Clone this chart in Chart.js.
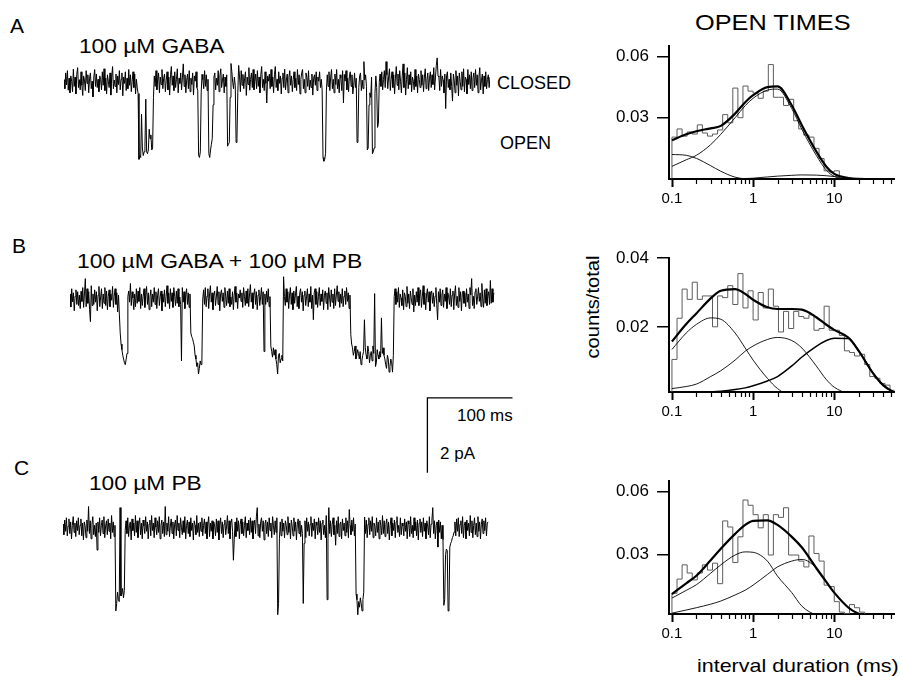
<!DOCTYPE html>
<html>
<head>
<meta charset="utf-8">
<title>Open times</title>
<script src="https://cdn.jsdelivr.net/npm/chart.js@4.4.1/dist/chart.umd.min.js"></script>
<style>
  body { margin: 0; background: #fff; }
  #fig { position: relative; width: 902px; height: 677px; overflow: hidden;
         font-family: 'Liberation Sans', Arial, sans-serif; color: #000; }
  .lbl { position: absolute; line-height: 1; white-space: nowrap; transform-origin: 0 0; }
  canvas { position: absolute; }
</style>
</head>
<body>
<div id="fig">
  <div class="lbl" style="left:10px;top:15px;font-size:21px">A</div>
  <div class="lbl" style="left:79px;top:35px;font-size:21px;transform:scaleX(1.08)">100 µM GABA</div>
  <div class="lbl" style="left:497px;top:74px;font-size:18px">CLOSED</div>
  <div class="lbl" style="left:500px;top:134px;font-size:18px">OPEN</div>
  <div class="lbl" style="left:695px;top:12px;font-size:22px;transform:scaleX(1.15)">OPEN TIMES</div>

  <div class="lbl" style="left:12px;top:235px;font-size:21px">B</div>
  <div class="lbl" style="left:77px;top:250px;font-size:21px;transform:scaleX(1.09)">100 µM GABA + 100 µM PB</div>
  <div class="lbl" style="left:457px;top:407px;font-size:17px">100 ms</div>
  <div class="lbl" style="left:440px;top:445px;font-size:17px">2 pA</div>
  <div class="lbl" style="left:593px;top:307px;font-size:18px;transform-origin:50% 50%;transform:translate(-50%,-50%) rotate(-90deg) scaleX(1.12)">counts/total</div>

  <div class="lbl" style="left:14px;top:457px;font-size:21px">C</div>
  <div class="lbl" style="left:89px;top:472px;font-size:21px;transform:scaleX(1.08)">100 µM PB</div>
  <div class="lbl" style="left:697px;top:656px;font-size:19px;transform:scaleX(1.13)">interval duration (ms)</div>

  <canvas id="traceA" width="426" height="124" style="left:64px;top:56px"></canvas>
  <canvas id="traceB" width="451" height="202" style="left:70px;top:273px"></canvas>
  <canvas id="traceC" width="426" height="124" style="left:63px;top:502px"></canvas>

  <canvas id="histA" width="302" height="181" style="left:600px;top:28px"></canvas>
  <canvas id="histB" width="302" height="182" style="left:600px;top:240px"></canvas>
  <canvas id="histC" width="302" height="181" style="left:600px;top:463px"></canvas>
</div>

<script>
// single-channel currents, one sample per ms, in units of 0.01 pA from the closed level
const sampleMs = 1;
const unitPA = 0.01;

const traceA = [
  7,-17,25,-7,31,-21,11,-28,17,3,-25,35,-11,14,-31,21,39,-14,7,-20,
  28,-8,-35,17,6,-22,31,-3,20,-28,11,25,-17,3,-39,14,34,-11,22,-14,
  8,-25,17,7,-20,28,-8,36,-22,11,-31,20,3,-14,25,-34,14,42,-17,6,
  -11,22,-28,17,-6,31,-20,8,25,-36,14,-3,28,-22,11,-17,34,-8,20,-25,
  3,28,-14,22,-31,8,-15,-30,-205,-195,-200,-85,-175,-195,-185,-170,-45,-185,-190,-180,
  -125,-150,-140,-180,-175,-40,17,-11,31,-20,8,25,-28,14,-6,34,-17,11,22,-25,
  6,28,-20,14,-34,20,42,-8,17,-22,28,-14,8,36,-28,11,-3,25,-20,14,
  49,-11,20,-28,6,22,-17,31,-25,11,-6,25,-34,17,3,28,-14,-21,-195,-200,
  -185,-28,21,7,-17,31,-11,20,-22,8,-190,-200,-180,-165,-150,-60,14,25,-20,11,
  -8,31,-25,17,36,-14,6,22,-28,14,-11,20,-170,-165,-160,-40,50,28,0,-17,
  14,-8,-160,-150,-28,45,17,-25,31,-8,21,-17,11,28,-35,14,-6,39,-21,8,
  25,-14,34,-20,3,22,-17,31,-11,14,-28,20,42,-14,8,-22,28,-3,-55,17,
  3,22,-17,34,-11,14,-28,20,42,-14,8,-22,28,-3,17,-31,11,25,-14,35,
  -20,6,22,-28,14,31,-8,17,-25,7,28,-14,11,-22,34,-6,20,-31,8,25,
  34,-17,8,-28,25,14,-11,31,-20,6,-14,22,-34,11,20,-8,28,-22,14,3,
  28,-14,8,-20,-200,-210,-205,-190,-21,20,-11,28,-22,14,34,-17,8,-28,22,-6,
  34,-17,8,-28,20,11,-22,31,-55,21,3,31,-20,11,-25,17,28,-11,20,-31,
  -8,25,-14,11,-160,-150,-14,17,25,-22,6,-17,55,6,20,-11,-180,-175,-60,-28,
  -40,14,-190,-185,-175,-30,17,-14,-120,-110,0,22,-11,28,-20,8,31,-14,55,20,
  -17,14,36,-22,8,28,-14,20,-31,11,42,-8,22,-20,31,3,-28,17,49,-14,
  25,-34,8,39,-17,20,-6,28,-25,14,3,-20,34,-11,17,-28,22,8,-14,31,
  -8,20,-25,14,36,-17,6,25,-22,11,28,-14,20,-6,39,-20,14,45,65,17,
  14,-22,34,-11,17,6,-28,22,-70,17,28,-14,8,-20,25,-11,-50,22,6,-28,
  31,-8,17,-36,25,3,-20,28,-11,36,-25,14,8,-31,34,-6,20,-17,28,-22,
  11,25,-14,34,-8,20,-28,14,39,-20,6,22,-31,17,-11,28,-17,8,20,-14,
  14
];

const traceB = [
  14,-21,28,-7,17,-31,8,25,-14,20,-17,11,-25,21,-6,31,-22,14,55,-20,
  28,-11,20,-28,-60,36,-17,14,-14,25,-8,20,-31,11,34,-20,6,28,-25,14,
  -11,31,-17,22,-28,8,25,-20,14,-3,34,-22,8,28,-14,17,-34,11,-40,-90,
  -120,-135,-150,-160,-170,-175,-160,-145,7,22,-8,42,-17,20,3,-28,14,-20,28,-11,
  22,-6,31,-25,14,-17,8,28,-22,11,34,-14,17,-28,6,25,-20,14,-8,31,
  -14,20,-25,11,28,-17,6,22,-31,14,-8,25,-20,8,36,-11,17,-25,28,-6,
  17,-22,31,8,-17,22,-11,28,-20,6,-14,-165,31,-8,20,-25,11,28,-14,17,
  -22,14,-90,-100,-105,-115,-125,-150,-160,-180,-170,-200,-185,-165,-175,-160,0,25,-14,31,
  -20,8,28,-25,14,36,-8,17,-28,11,22,-17,6,34,-14,20,-31,14,25,-6,
  17,-22,31,8,-17,22,-11,28,-20,6,-14,20,-28,11,34,-8,17,-25,14,3,
  25,-6,17,-22,31,8,-17,22,-11,28,-20,14,39,-8,17,-25,11,28,-14,20,
  -28,11,25,-17,6,31,-14,20,-140,14,-14,22,-8,28,-20,7,-125,-140,-155,-130,
  -150,-135,-160,-175,-200,-150,-145,-170,-160,-150,-165,60,7,-17,28,-8,20,-25,11,31,
  -14,17,-28,22,-11,14,34,-20,8,-25,17,28,-8,20,-31,11,22,-17,6,28,
  -20,14,-8,34,-25,11,-55,17,28,-14,20,-22,8,31,-17,14,-6,25,-28,11,
  22,-11,17,-28,31,6,-20,25,-8,14,-25,28,-17,11,36,-6,20,-22,14,-11,
  28,-20,8,22,-14,31,-6,17,-25,11,-95,-120,-130,-150,-140,-125,-160,-150,-135,-145,
  -160,-140,-175,-165,-150,-140,-55,-130,-150,-160,-125,-140,-170,-150,-140,-165,-125,-145,15,-180,
  -170,-135,-150,-160,-140,-155,-50,-145,-130,-150,-160,-175,-185,-150,-160,-195,-180,-160,-170,-195,
  -150,7,28,-14,20,-8,31,-22,14,3,-17,25,-28,17,8,-20,34,-11,14,-25,
  22,3,-14,28,-34,11,-17,20,-8,31,-17,14,25,-22,6,36,-14,17,-28,11,
  28,-8,20,-31,14,22,-11,17,-20,8,31,-14,-55,20,-8,28,-17,11,25,-22,
  14,-6,31,-25,17,6,-14,28,-20,11,22,-28,14,36,-17,8,-22,31,-6,20,
  -31,14,22,-11,17,-20,28,-8,14,-25,31,11,55,-17,8,-25,20,28,-14,6,
  31,-6,17,-20,42,3,-22,25,-11,28,-17,8,20,-14,50,-11,28,-8,17
];

const traceC = [
  11,-17,22,-8,28,-20,6,25,-14,17,-28,8,31,-11,14,-22,20,-6,28,-17,
  8,25,-20,14,-31,17,6,-25,22,-8,58,-14,20,-28,11,31,-17,8,-22,14,
  -58,17,-11,28,-20,8,22,-14,31,-25,6,20,-17,25,-8,14,-28,34,-11,17,
  -22,8,-220,-200,-170,-190,-195,55,-180,-175,-160,-185,-165,-5,20,-14,28,-22,8,17,
  -31,25,-6,14,-20,34,-11,20,-25,8,28,-17,14,-28,22,6,-14,31,-8,17,
  -28,11,22,-20,34,-6,14,-25,28,3,-17,20,-11,31,-28,8,22,-14,17,-22,
  58,-17,14,-8,31,-22,6,25,-14,17,-28,11,22,-20,34,-6,14,-25,28,3,
  -17,20,-11,31,-28,8,22,-14,17,-22,28,-6,14,-31,20,8,-17,34,-11,14,
  -22,17,-8,28,-20,8,25,-14,17,-28,11,31,-22,14,-8,20,-28,17,6,-20,
  25,-11,20,-31,8,28,-14,17,-25,11,22,-17,6,34,-14,20,-28,14,25,-8,
  -85,-30,17,-22,28,-8,20,-28,11,25,-14,17,-20,8,31,-25,14,-6,22,-17,
  28,-11,20,-28,8,22,-14,31,55,-20,11,-25,17,28,-8,20,-31,11,22,-14,
  17,-22,28,-6,14,-25,31,8,-17,20,-11,28,-230,-200,-28,17,-20,25,-8,14,
  -25,20,8,-17,31,-11,14,-28,22,6,-20,28,-8,17,-31,11,25,-14,20,-22,
  8,-14,-200,-40,20,-25,28,-8,17,-20,11,31,-22,14,-6,25,-28,17,8,-17,
  28,-11,20,-31,14,22,-17,8,-25,34,-190,-28,55,-14,20,-22,11,28,-17,8,
  -45,20,-14,31,-22,11,17,-28,25,-6,14,-20,28,-11,20,-25,50,8,-17,22,
  -8,28,-20,11,-175,-190,-230,-195,-210,-185,-200,-220,-190,-170,30,-14,22,-25,11,28,
  -17,20,-8,31,-25,14,6,-20,28,-11,17,-28,22,8,-17,34,-14,20,-22,11,
  25,-14,17,-31,8,28,-20,14,-6,22,-25,17,31,-11,8,-22,28,-17,14,6,
  -20,25,-8,17,-28,20,11,-22,31,-14,8,-25,28,-6,17,-20,22,-31,14,25,
  -11,17,-22,28,-8,14,-28,20,6,-17,31,-25,11,22,55,-14,20,-28,8,17,
  -50,22,-11,17,-28,8,-30,-205,-190,-70,-55,-60,-220,-210,-50,-40,-35,-25,-20,-10,
  17,-20,25,-8,28,-22,11,20,-14,31,-25,8,17,-28,22,-6,14,-20,34,-11,
  20,-25,8,28,-17,14,-22,31,-8,17,-28,11,25,-14,20,-6,28,-20,14,17
];

// calibration bar
const barMs = 100;
const barPA = 2;

// open-time histograms: log-spaced bin edges (ms) and fraction of events per bin
const binEdges = [
  0.1, 0.1155, 0.1334, 0.154, 0.1778, 0.2054, 0.2371, 0.2738, 0.3162, 0.3652,
  0.4217, 0.487, 0.5623, 0.6494, 0.7499, 0.866, 1, 1.155, 1.334, 1.54,
  1.778, 2.054, 2.371, 2.738, 3.162, 3.652, 4.217, 4.87, 5.623, 6.494,
  7.499, 8.66, 10, 11.55, 13.34, 15.4, 17.78, 20.54, 23.71, 27.38,
  31.62, 36.52, 42.17, 48.7, 56.23
];

const histA = [
  0.0205, 0.0245, 0.0210, 0.0230, 0.0220, 0.0265, 0.0225, 0.0210, 0.0220, 0.0240,
  0.0315, 0.0275, 0.0445, 0.0300, 0.0455, 0.0430, 0.0420, 0.0395, 0.0430, 0.0560,
  0.0400, 0.0400, 0.0360, 0.0390, 0.0285, 0.0245, 0.0215, 0.0205, 0.0150, 0.0100,
  0.0040, 0.0035, 0.0040
];

const histB = [
  0.0105, 0.0225, 0.0310, 0.0280, 0.0330, 0.0280, 0.0290, 0.0290, 0.0200, 0.0290,
  0.0285, 0.0320, 0.0265, 0.0355, 0.0255, 0.0305, 0.0220, 0.0300, 0.0255, 0.0310,
  0.0260, 0.0185, 0.0245, 0.0195, 0.0245, 0.0230, 0.0225, 0.0235, 0.0190, 0.0195,
  0.0260, 0.0190, 0.0190, 0.0175, 0.0130, 0.0125, 0.0115, 0.0120, 0.0090, 0.0055,
  0.0050, 0.0035, 0.0030, 0.0015
];

const histC = [
  0.0114, 0.0182, 0.0250, 0.0211, 0.0178, 0.0211, 0.0250, 0.0225, 0.0258, 0.0160,
  0.0460, 0.0431, 0.0261, 0.0384, 0.0560, 0.0535, 0.0490, 0.0427, 0.0490, 0.0297,
  0.0490, 0.0477, 0.0523, 0.0297, 0.0297, 0.0268, 0.0240, 0.0388, 0.0304, 0.0268,
  0.0153, 0.0146, 0.0074, 0.0024, 0.0016, 0.0060, 0.0045, 0.0024
];

// fitted components and their sum, sampled at fitX (ms)
const fitX = [0.1, 0.15, 0.2, 0.3, 0.4, 0.6, 0.8, 1, 1.5, 2, 3, 4, 6, 8, 10, 15, 20, 30, 40, 55];

const fitTotalA = [0.019, 0.0219, 0.0234, 0.0248, 0.026, 0.032, 0.0376, 0.041, 0.045, 0.0453, 0.036, 0.0262, 0.0135, 0.006, 0.0025, 0.0005, 0.0001, 0, 0, 0];
const fitA1 = [0.012, 0.0116, 0.0101, 0.0065, 0.0038, 0.0009, 0.0001, 0, 0, 0, 0, 0, 0, 0, 0, 0, 0, 0, 0, 0];
const fitA2 = [0.0062, 0.0094, 0.0116, 0.0168, 0.0219, 0.030, 0.0359, 0.0395, 0.0435, 0.044, 0.0344, 0.0242, 0.0116, 0.0043, 0.0013, 0, 0, 0, 0, 0];
const fitA3 = [0, 0, 0, 0, 0, 0.0001, 0.0002, 0.0004, 0.001, 0.0014, 0.0018, 0.002, 0.0019, 0.0016, 0.0012, 0.0005, 0.0001, 0, 0, 0];

const fitTotalB = [0.0157, 0.0208, 0.0239, 0.0283, 0.0305, 0.031, 0.0296, 0.0279, 0.0257, 0.0252, 0.0252, 0.025, 0.0228, 0.0206, 0.0191, 0.0168, 0.013, 0.0065, 0.003, 0.0008];
const fitB1 = [0.0134, 0.0182, 0.0207, 0.0226, 0.0222, 0.0182, 0.0138, 0.0103, 0.005, 0.002, 0, 0, 0, 0, 0, 0, 0, 0, 0, 0];
const fitB2 = [0.002, 0.0026, 0.0033, 0.0055, 0.0072, 0.0103, 0.0129, 0.0144, 0.0163, 0.0169, 0.016, 0.0138, 0.0086, 0.0046, 0.0024, 0.0005, 0, 0, 0, 0];
const fitB3 = [0, 0, 0, 0.001, 0.0012, 0.0017, 0.0022, 0.0028, 0.0042, 0.0055, 0.0086, 0.0112, 0.0143, 0.016, 0.0167, 0.0166, 0.013, 0.0065, 0.003, 0.0008];

const fitTotalC = [0.011, 0.0162, 0.0198, 0.0272, 0.0327, 0.0398, 0.0441, 0.046, 0.0463, 0.0441, 0.0384, 0.0333, 0.0235, 0.0168, 0.0117, 0.0045, 0.0016, 0, 0, 0];
const fitC1 = [0.0091, 0.0128, 0.0155, 0.021, 0.025, 0.0297, 0.0312, 0.031, 0.0268, 0.0196, 0.0117, 0.0052, 0.001, 0, 0, 0, 0, 0, 0, 0];
const fitC2 = [0.0019, 0.0034, 0.0045, 0.0062, 0.0077, 0.0106, 0.0129, 0.0153, 0.0204, 0.024, 0.0268, 0.0276, 0.0235, 0.0168, 0.0117, 0.0045, 0.0016, 0, 0, 0];

// axis ticks
const logTicks = [0.1, 0.2, 0.3, 0.4, 0.5, 0.6, 0.7, 0.8, 0.9, 1, 2, 3, 4, 5, 6, 7, 8, 9, 10, 20, 30, 40, 50];
const logLabels = [0.1, 1, 10];
const yTicksA = [0.03, 0.06];
const yTicksB = [0.02, 0.04];
const yTicksC = [0.03, 0.06];

const FONT = "'Liberation Sans', Arial, sans-serif";

function traceChart(id, values, xMax, yMin, yMax, extra) {
  const datasets = [{
    data: values.map((v, i) => ({x: i * sampleMs, y: v * unitPA})),
    borderColor: '#000',
    borderWidth: 1
  }];
  if (extra) datasets.push(extra);
  return new Chart(document.getElementById(id), {
    type: 'line',
    data: {datasets: datasets},
    options: {
      responsive: false,
      animation: false,
      layout: {padding: 0},
      plugins: {legend: {display: false}, tooltip: {enabled: false}},
      elements: {point: {radius: 0}, line: {tension: 0}},
      datasets: {line: {clip: false}},
      scales: {
        x: {type: 'linear', display: false, min: 0, max: xMax},
        y: {type: 'linear', display: false, min: yMin, max: yMax}
      }
    }
  });
}

traceChart('traceA', traceA, 500, -2.6, 0.7);

// calibration bar corner sits below trace B, in its own ms / pA units
const barT0 = 420, barTop = -2.64;
traceChart('traceB', traceB, 530, -4.7, 0.7, {
  data: [
    {x: barT0 + barMs, y: barTop},
    {x: barT0, y: barTop},
    {x: barT0, y: barTop - barPA}
  ],
  borderColor: '#000',
  borderWidth: 1.3
});

traceChart('traceC', traceC, 500, -2.6, 0.7);

// short minor / longer major tick marks under the log axis
const logTickMarks = {
  id: 'logTickMarks',
  afterDraw(chart) {
    const sx = chart.scales.x;
    const ctx = chart.ctx;
    const y0 = chart.chartArea.bottom;
    ctx.save();
    ctx.strokeStyle = '#000';
    sx.ticks.forEach(t => {
      const major = logLabels.includes(t.value);
      const px = Math.round(sx.getPixelForValue(t.value)) + 0.5;
      ctx.lineWidth = major ? 2 : 1.2;
      ctx.beginPath();
      ctx.moveTo(px, y0);
      ctx.lineTo(px, y0 + (major ? 8 : 5));
      ctx.stroke();
    });
    ctx.restore();
  }
};

function histData(hist) {
  const pts = [{x: binEdges[0], y: 0}];
  hist.forEach((h, k) => pts.push({x: binEdges[k], y: h}));
  pts.push({x: binEdges[hist.length], y: 0});
  return pts;
}

function curve(ys, width) {
  return {
    data: fitX.map((x, i) => ({x: x, y: ys[i]})),
    borderColor: '#000',
    borderWidth: width,
    cubicInterpolationMode: 'monotone'
  };
}

function histChart(id, hist, fits, yMin, yMax, yTicks) {
  const datasets = fits.concat([{
    data: histData(hist),
    borderColor: '#5c5c5c',
    borderWidth: 1,
    stepped: 'before'
  }]);
  return new Chart(document.getElementById(id), {
    type: 'line',
    data: {datasets: datasets},
    options: {
      responsive: false,
      animation: false,
      layout: {padding: {top: 4, right: 1, left: 0, bottom: 0}},
      plugins: {legend: {display: false}, tooltip: {enabled: false}},
      elements: {point: {radius: 0}},
      scales: {
        x: {
          type: 'logarithmic',
          min: 0.092,
          max: 55,
          bounds: 'data',
          afterFit: s => { s.height = 30; },
          afterBuildTicks: s => { s.ticks = logTicks.map(v => ({value: v})); },
          grid: {display: false, drawTicks: false},
          border: {display: true, color: '#000', width: 2},
          ticks: {
            autoSkip: false,
            maxRotation: 0,
            padding: 11,
            color: '#000',
            font: {family: FONT, size: 15},
            callback: v => logLabels.includes(v) ? String(v) : ''
          }
        },
        y: {
          type: 'linear',
          min: yMin,
          max: yMax,
          afterFit: s => { s.width = 69; },
          afterBuildTicks: s => { s.ticks = yTicks.map(v => ({value: v})); },
          grid: {drawOnChartArea: false, drawTicks: true, tickLength: 12, color: '#000', lineWidth: 1.5},
          border: {display: true, color: '#000', width: 2},
          ticks: {
            padding: 8,
            color: '#000',
            font: {family: FONT, size: 17},
            callback: v => v.toFixed(2)
          }
        }
      }
    },
    plugins: [logTickMarks]
  });
}

histChart('histA', histA,
  [curve(fitTotalA, 2.2), curve(fitA1, 0.9), curve(fitA2, 0.9), curve(fitA3, 0.9)],
  0, 0.065, yTicksA);

histChart('histB', histB,
  [curve(fitTotalB, 2.2), curve(fitB1, 0.9), curve(fitB2, 0.9), curve(fitB3, 1.5)],
  0.001, 0.04, yTicksB);

histChart('histC', histC,
  [curve(fitTotalC, 2.2), curve(fitC1, 0.9), curve(fitC2, 0.9)],
  0.0015, 0.065, yTicksC);
</script>
</body>
</html>
